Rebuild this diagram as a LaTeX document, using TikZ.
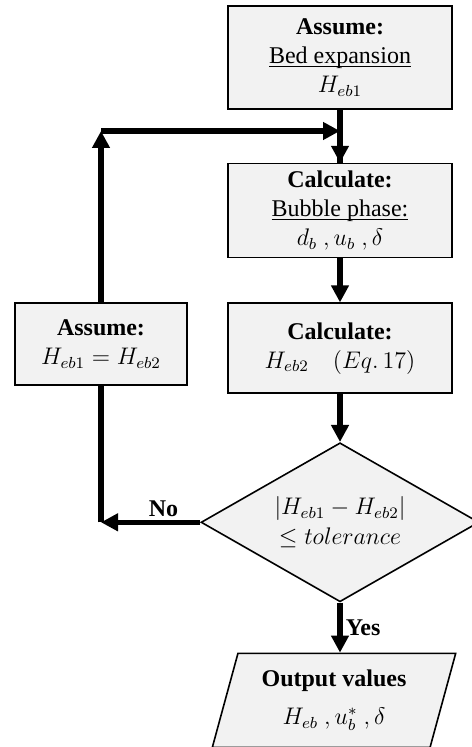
\documentclass[tikz,border=0pt]{standalone}
\usepackage{fontspec}
\setmainfont{Liberation Serif}
\usepackage{amsmath}
\usepackage{tikz}
\usetikzlibrary{shapes.geometric, arrows.meta, positioning, calc}
\definecolor{boxfill}{HTML}{F2F2F2}
\definecolor{linecol}{HTML}{000000}
\newcommand{\uln}[1]{\underline{\smash{#1}}\vphantom{p}}
\tikzset{
  stepbox/.style={
    rectangle, draw=linecol, line width=0.8pt,
    minimum width=112pt, inner sep=2pt,
    align=center, fill=boxfill,
    font=\fontsize{12}{14.5}\selectfont,
  },
  checkbox/.style={
    diamond, aspect=1.75, draw=linecol, line width=0.8pt,
    minimum width=139pt, minimum height=79.5pt, inner sep=1pt,
    align=center, fill=boxfill,
    font=\fontsize{12}{15}\selectfont,
  },
  outbox/.style={
    trapezium, trapezium left angle=73, trapezium right angle=107,
    trapezium stretches=true,
    draw=linecol, line width=0.8pt,
    minimum width=122pt, minimum height=47pt, inner sep=1pt,
    align=center, fill=boxfill,
    font=\fontsize{12}{19}\selectfont,
  },
  arrow/.style={-{Triangle[length=8.5pt,width=8.5pt]}, line width=2.8pt, color=linecol},
  flow/.style={line width=2.8pt, color=linecol},
  lbl/.style={font=\fontsize{12}{14}\selectfont\bfseries, inner sep=1.5pt},
}
\begin{document}
\begin{tikzpicture}
  \useasboundingbox (0,0) rectangle (235.5pt,-373.5pt);
  % main column
  \node[stepbox,minimum height=51.5pt] (bedexp) at (170pt,-28.75pt)
    {\textbf{Assume:}\\\uln{Bed expansion}\\$H_{eb1}$};
  \node[stepbox,minimum height=47pt,below=26.5pt of bedexp] (bubble)
    {\textbf{Calculate:}\\\uln{Bubble phase:}\\$d_b\ ,u_b\ ,\delta$};
  \node[stepbox,minimum height=45pt,below=22pt of bubble] (heb2)
    {\textbf{Calculate:}\\$H_{eb2}\quad(Eq.\,17)$};
  \node[checkbox,below=24pt of heb2] (tol)
    {$|H_{eb1}-H_{eb2}|$\\$\leq tolerance$};
  \node[outbox,below=25pt of tol,xshift=-3pt] (output)
    {\textbf{Output values}\\$H_{eb}\ ,u_b^*\ ,\delta$};
  % loop back
  \node[stepbox,minimum width=86pt,minimum height=41pt] (newguess) at (50.5pt,-172pt)
    {\textbf{Assume:}\\$H_{eb1}=H_{eb2}$};
  \coordinate (loopcorner) at (50.5pt,-65.5pt);
  \coordinate (nocorner) at (tol.west -| newguess);
  \draw[flow] (bedexp)--(bubble);
  \draw[arrow] ($(bubble.north)+(0,7pt)$)--(bubble.north);
  \draw[arrow] (bubble)--(heb2);
  \draw[arrow] (heb2)--(tol);
  \draw[arrow] (tol.south)--node[lbl,right]{Yes}(output.north -| tol.south);
  \draw[arrow] (tol.west)--node[lbl,above,pos=0.37]{No}(nocorner);
  \draw[flow] (nocorner)--(newguess.south);
  \draw[arrow] (newguess.north)--(loopcorner);
  \draw[arrow] (loopcorner)--(loopcorner -| bedexp.south);
\end{tikzpicture}
\end{document}
